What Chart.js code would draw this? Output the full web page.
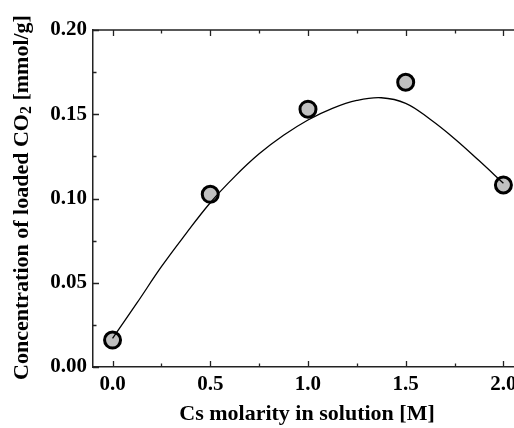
<!DOCTYPE html>
<html>
<head>
<meta charset="utf-8">
<script src="https://cdn.jsdelivr.net/npm/chart.js@4.4.1/dist/chart.umd.min.js"></script>
<style>
  html, body { margin: 0; padding: 0; background: #fff; overflow: hidden; }
  #wrap { width: 540px; height: 428px; }
</style>
</head>
<body>
<div id="wrap"><canvas id="chartCanvas" width="540" height="428"></canvas></div>
<script>
// measured points
const molarity = [0.0, 0.5, 1.0, 1.5, 2.0];
const loadedCO2 = [0.016, 0.1025, 0.153, 0.169, 0.108];

// fitted curve
const fitX = [0.0, 0.125, 0.25, 0.375, 0.5, 0.625, 0.75, 0.875, 1.0,
              1.125, 1.25, 1.375, 1.5, 1.625, 1.75, 1.875, 2.0];
const fitY = [0.017, 0.038, 0.0595, 0.079, 0.0975, 0.113, 0.1265, 0.1375, 0.1466,
              0.1535, 0.1582, 0.1598, 0.1565, 0.147, 0.1355, 0.1225, 0.109];

// tick values
const xMajor = [0.0, 0.5, 1.0, 1.5, 2.0];
const xMinor = [0.25, 0.75, 1.25, 1.75];
const yMajor = [0.00, 0.05, 0.10, 0.15, 0.20];
const yMinor = [0.025, 0.075, 0.125, 0.175];

const serif = '"Liberation Serif", "Times New Roman", serif';
const axisColor = '#222';

function zipXY(xs, ys) {
    let arr = [];
    for (let i = 0; i < xs.length; i++) {
        arr.push({x: xs[i], y: ys[i]});
    }
    return arr;
}

// frame on top/right, inward ticks, y title with subscript
const framePlugin = {
    id: 'frame',
    afterDraw(chart) {
        const ctx = chart.ctx;
        const {left, right, top, bottom} = chart.chartArea;
        const xs = chart.scales.x, ys = chart.scales.y;
        ctx.save();
        ctx.strokeStyle = axisColor;
        ctx.lineWidth = 1.5;
        ctx.beginPath();
        ctx.moveTo(left, top); ctx.lineTo(right, top);
        ctx.moveTo(right, top); ctx.lineTo(right, bottom);
        ctx.stroke();

        ctx.lineWidth = 1.3;
        ctx.beginPath();
        xMajor.concat(xMinor).forEach((v) => {
            const len = xMajor.indexOf(v) >= 0 ? 6 : 3.5;
            const px = Math.round(xs.getPixelForValue(v)) + 0.5;
            ctx.moveTo(px, bottom); ctx.lineTo(px, bottom - len);
            ctx.moveTo(px, top); ctx.lineTo(px, top + len);
        });
        yMajor.concat(yMinor).forEach((v) => {
            const len = yMajor.indexOf(v) >= 0 ? 6 : 3.5;
            const py = Math.round(ys.getPixelForValue(v)) + 0.5;
            ctx.moveTo(left, py); ctx.lineTo(left + len, py);
            ctx.moveTo(right, py); ctx.lineTo(right - len, py);
        });
        ctx.stroke();

        // y axis title
        const parts = [
            ['Concentration of loaded CO', 'bold 22px ' + serif, 0],
            ['2', 'bold 16px ' + serif, 5],
            [' [mmol/g]', 'bold 22px ' + serif, 0]
        ];
        let total = 0;
        parts.forEach((p) => { ctx.font = p[1]; total += ctx.measureText(p[0]).width; });
        ctx.translate(22, (top + bottom) / 2 - 1);
        ctx.rotate(-Math.PI / 2);
        ctx.fillStyle = '#000';
        ctx.textBaseline = 'middle';
        ctx.textAlign = 'left';
        let pos = -total / 2;
        parts.forEach((p) => {
            ctx.font = p[1];
            ctx.fillText(p[0], pos, p[2]);
            pos += ctx.measureText(p[0]).width;
        });
        ctx.restore();
    }
};

const ctx = document.getElementById('chartCanvas').getContext('2d');
const chart = new Chart(ctx, {
    type: 'scatter',
    data: {
        datasets: [{
            type: 'line',
            label: 'fit',
            data: zipXY(fitX, fitY),
            borderColor: '#000',
            borderWidth: 1.3,
            pointRadius: 0,
            fill: false,
            tension: 0.4,
            order: 0
        }, {
            label: 'data',
            data: zipXY(molarity, loadedCO2),
            backgroundColor: '#c0c0c0',
            borderColor: '#000',
            borderWidth: 3,
            pointRadius: 8,
            order: 1
        }]
    },
    options: {
        responsive: false,
        devicePixelRatio: 1,
        animation: false,
        layout: { padding: { top: 30, right: 19, left: 0, bottom: 0 } },
        plugins: {
            legend: { display: false },
            tooltip: { enabled: false }
        },
        scales: {
            x: {
                type: 'linear',
                min: -0.1,
                max: 2.09,
                grid: { display: false, drawTicks: false },
                border: { display: true, color: axisColor, width: 1.5 },
                afterBuildTicks: (scale) => { scale.ticks = xMajor.map((v) => ({value: v})); },
                afterFit: (scale) => { scale.height = 61; },
                ticks: {
                    color: '#000',
                    padding: 5,
                    maxRotation: 0,
                    font: { family: serif, size: 21, weight: 'bold' },
                    callback: (v) => Number(v).toFixed(1)
                },
                title: {
                    display: true,
                    text: 'Cs molarity in solution [M]',
                    color: '#000',
                    padding: { top: 0, bottom: 0 },
                    font: { family: serif, size: 22, weight: 'bold' }
                }
            },
            y: {
                min: 0,
                max: 0.2,
                grid: { display: false, drawTicks: false },
                border: { display: true, color: axisColor, width: 1.5 },
                afterBuildTicks: (scale) => { scale.ticks = yMajor.map((v) => ({value: v})); },
                afterFit: (scale) => { scale.width = 93; },
                ticks: {
                    color: '#000',
                    padding: 6,
                    font: { family: serif, size: 21, weight: 'bold' },
                    callback: (v) => Number(v).toFixed(2)
                }
            }
        }
    },
    plugins: [framePlugin]
});
</script>
</body>
</html>
